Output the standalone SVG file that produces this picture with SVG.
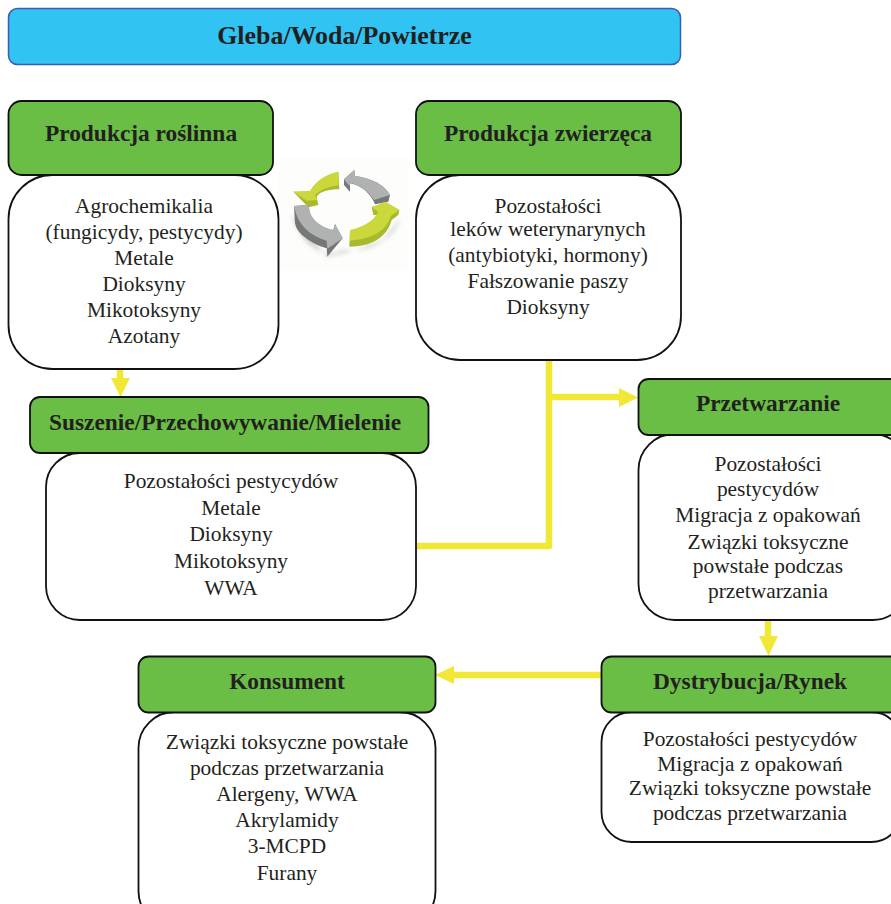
<svg xmlns="http://www.w3.org/2000/svg" width="891" height="904" viewBox="0 0 891 904">
<style>
text{font-family:"Liberation Serif","Times New Roman",serif;fill:#231f20;text-anchor:middle}
.b{font-size:21.4px}
.h{font-size:23.4px;font-weight:bold}
.g{fill:#6abd45;stroke:#111;stroke-width:1.8}
.w{fill:#fff;stroke:#111;stroke-width:1.8}
.c{fill:none;stroke:#f1e836;stroke-width:6.5}
.a{fill:#f1e836}
.ys{fill:#a9b82c}
.yt{fill:#cbd83c}
.gs{fill:#767777}
.gt{fill:#b0b1b1}
</style>
<defs>
<filter id="sh" x="-20%" y="-20%" width="140%" height="140%"><feGaussianBlur stdDeviation="6"/></filter>
</defs>
<rect width="891" height="904" fill="#fff"/>
<g id="cycle-icon" transform="translate(270 150) scale(.3333)">
<rect x="24" y="18" width="392" height="342" fill="#fdfdfb"/>
<path d="M65 190C90 290 170 330 215 300C300 310 370 270 392 205L340 270L240 305L170 320Z" fill="#888" opacity=".4" filter="url(#sh)"/>
<path class="ys" d="M205 66L208 118C175 118 150 125 140 140L145 165L115 172L70 125L120 125C135 95 170 72 205 66Z"/>
<path class="yt" d="M205 66L206 106C172 110 145 125 135 136L142 150L110 152L70 125L122 122C135 95 170 72 205 66Z"/>
<path class="gs" d="M222 88L253 60L255 78C305 85 345 105 360 135L355 155L315 163C305 135 275 105 240 100V125L222 105Z"/>
<path class="gt" d="M222 88L253 60L255 78C305 85 345 105 360 135L312 150C298 125 270 105 240 98L238 108Z"/>
<path class="ys" d="M388 180L345 155L350 165C330 165 315 168 305 170L310 195H325C310 225 275 240 240 240L238 290C300 290 350 265 365 210L385 195Z"/>
<path class="yt" d="M388 180L345 155L305 172L325 185C310 215 275 232 240 240L240 272C300 268 350 245 362 198Z"/>
<path class="gs" d="M72 168L115 165L120 195C135 220 165 238 190 240L195 222L218 265L172 320L170 295C120 280 80 250 75 220Z"/>
<path class="gt" d="M72 168L115 165L122 192C135 220 165 235 190 240L195 222L218 265L172 296L170 272C125 258 85 232 72 168Z"/>
</g>
<g id="connectors">
<path class="c" d="M120 369V385"/><path class="a" d="M111 378H130L120.500 397Z"/>
<path class="c" d="M549 360V546H416" stroke-linejoin="round"/>
<path class="c" d="M549 397H620"/><path class="a" d="M619 388L638 397.500L619 407Z"/>
<path class="c" d="M768 619V640"/><path class="a" d="M759 636H778L768.500 656Z"/>
<path class="c" d="M601 675H452"/><path class="a" d="M454 666V684L435 675Z"/>
</g>
<g id="gleba"><rect x="8.500" y="8.500" width="672" height="56" rx="9" fill="#31c3f2" stroke="#3a5cb0" stroke-width="1.500"/><text class="h" x="344.500" y="43.500" style="font-size:25.900px">Gleba/Woda/Powietrze</text></g>
<g id="produkcja-roslinna">
<rect class="w" x="8.500" y="175" width="270" height="194" rx="44"/>
<rect class="g" x="8.500" y="101" width="264.500" height="74" rx="13"/>
<text class="h" x="141" y="141">Produkcja roślinna</text>
<text class="b"><tspan x="144" y="212.500">Agrochemikalia</tspan><tspan x="144" y="238.500">(fungicydy, pestycydy)</tspan><tspan x="144" y="264.500">Metale</tspan><tspan x="144" y="290.500">Dioksyny</tspan><tspan x="144" y="316.500">Mikotoksyny</tspan><tspan x="144" y="342.500">Azotany</tspan></text>
</g>
<g id="produkcja-zwierzeca">
<rect class="w" x="416" y="175" width="265" height="185" rx="44"/>
<rect class="g" x="416" y="101" width="265" height="74" rx="13"/>
<text class="h" x="548" y="141">Produkcja zwierzęca</text>
<text class="b"><tspan x="548" y="212.500">Pozostałości</tspan><tspan x="548" y="235.500">leków weterynarynych</tspan><tspan x="548" y="261.500">(antybiotyki, hormony)</tspan><tspan x="548" y="287.500">Fałszowanie paszy</tspan><tspan x="548" y="313.500">Dioksyny</tspan></text>
</g>
<g id="suszenie">
<rect class="w" x="46" y="453" width="370" height="167" rx="34"/>
<rect class="g" x="30" y="397" width="398.500" height="56" rx="10"/>
<text class="h" x="225" y="430">Suszenie/Przechowywanie/Mielenie</text>
<text class="b"><tspan x="231" y="488">Pozostałości pestycydów</tspan><tspan x="231" y="515">Metale</tspan><tspan x="231" y="541">Dioksyny</tspan><tspan x="231" y="568">Mikotoksyny</tspan><tspan x="231" y="595">WWA</tspan></text>
</g>
<g id="przetwarzanie">
<rect class="w" x="638.500" y="434" width="270" height="186" rx="36"/>
<rect class="g" x="638.500" y="379" width="270" height="56" rx="10"/>
<text class="h" x="768" y="411">Przetwarzanie</text>
<text class="b"><tspan x="768" y="471">Pozostałości</tspan><tspan x="768" y="496">pestycydów</tspan><tspan x="768" y="522">Migracja z opakowań</tspan><tspan x="768" y="549">Związki toksyczne</tspan><tspan x="768" y="573">powstałe podczas</tspan><tspan x="768" y="598">przetwarzania</tspan></text>
</g>
<g id="dystrybucja">
<rect class="w" x="601.500" y="712" width="300" height="130" rx="30"/>
<rect class="g" x="601.500" y="656.500" width="300" height="56" rx="10"/>
<text class="h" x="750" y="689">Dystrybucja/Rynek</text>
<text class="b"><tspan x="750" y="746">Pozostałości pestycydów</tspan><tspan x="750" y="771">Migracja z opakowań</tspan><tspan x="750" y="795">Związki toksyczne powstałe</tspan><tspan x="750" y="820">podczas przetwarzania</tspan></text>
</g>
<g id="konsument">
<rect class="w" x="138.500" y="712" width="297" height="215" rx="36"/>
<rect class="g" x="138.500" y="656.500" width="297" height="56" rx="10"/>
<text class="h" x="287" y="689">Konsument</text>
<text class="b"><tspan x="287" y="749">Związki toksyczne powstałe</tspan><tspan x="287" y="775">podczas przetwarzania</tspan><tspan x="287" y="801">Alergeny, WWA</tspan><tspan x="287" y="827">Akrylamidy</tspan><tspan x="287" y="853">3-MCPD</tspan><tspan x="287" y="880">Furany</tspan></text>
</g>
</svg>
